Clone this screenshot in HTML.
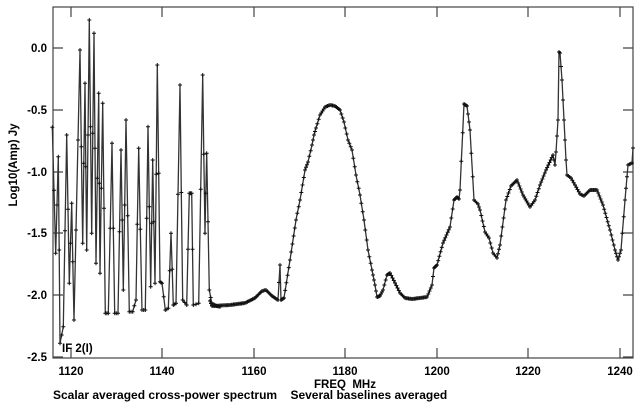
<!DOCTYPE html><html><head><style>body{margin:0;background:#fff}svg{display:block;font-family:"Liberation Sans",sans-serif;font-weight:bold;font-size:11.5px}</style></head><body>
<svg id="s" width="639" height="405" xmlns="http://www.w3.org/2000/svg">
<rect x="53" y="7" width="580" height="351" fill="none" stroke="#444" stroke-width="1.2"/>
<g id="ticks" stroke="#444" stroke-width="1.2"></g>
<g text-anchor="end">
<text x="47" y="52">0.0</text><text x="47" y="114">-0.5</text><text x="47" y="176">-1.0</text><text x="47" y="237">-1.5</text><text x="47" y="299">-2.0</text><text x="47" y="361">-2.5</text></g>
<g text-anchor="middle">
<text x="71" y="375">1120</text><text x="162" y="375">1140</text><text x="254" y="375">1160</text><text x="345" y="375">1180</text><text x="437" y="375">1200</text><text x="528" y="375">1220</text><text x="620" y="375">1240</text>
<text x="345" y="388">FREQ&#160;&#160;MHz</text>
<text transform="translate(17,165) rotate(-90)">Log10(Amp) Jy</text></g>
<text x="62" y="352">IF 2(I)</text>
<text x="53" y="399" font-size="12">Scalar averaged cross-power spectrum&#160;&#160;&#160;&#160;Several baselines averaged</text>
<path id="p" fill="none" stroke="#333" stroke-width="1.3"/>
<path id="m" fill="none" stroke="#111" stroke-width="1"/>
</svg>
<script>
var L=[157,382,167,760,175,470,180,1030,190,980,200,405,208,850,215,610,222,960,240,150,248,730,255,250,260,750,268,60,275,700,282,100,288,790,296,280,300,820,308,310,316,940,325,940,336,430,344,940,354,940,363,450,370,870,378,360,388,935,398,935,408,900,416,445,426,930,436,930,444,380,452,860,458,480,465,850,472,195,480,845,486,850,496,930,505,925,513,700,520,915,528,910,540,255,548,900,560,915,568,580,575,580,580,915,596,910,608,225,615,700,620,460,628,870,636,915,660,920];
var P=[];for(var i=0;i<L.length;i+=2)P.push([L[i]/3,L[i+1]/3]);
var R=[210,301,212,306,230,305,245,303,255,298,262,291,266,290,272,296,278,300,280,265,281,300,284,298,290,260,296,220,300,200,305,170,308,162,312,145,314,135,316,128,320,115,325,107,330,105,335,106,340,110,344,122,348,140,352,150,356,175,360,195,364,220,368,250,372,270,375,285,377,297,380,296,383,290,387,275,390,273,395,283,400,293,405,298,412,299,420,298,427,297,432,285,434,268,437,265,443,243,450,227,454,200,457,197,459,199,460,190,464,104,467,106,470,130,474,200,478,204,480,210,485,232,489,238,493,253,497,258,500,245,506,200,511,186,517,180,523,195,530,207,535,200,540,185,546,170,553,155,555,165,556,152,558,120,559,52,560,53,562,80,564,120,566,160,567,175,571,178,575,185,580,194,584,196,590,190,597,190,603,205,610,230,615,250,618,260,621,250,625,200,628,165,632,163,633,148];
for(i=0;i<R.length;i+=2)P.push([R[i],R[i+1]]);
var pts=[];
for(i=0;i<P.length-1;i++){var a=P[i],b=P[i+1];var n=Math.max(1,Math.round((b[0]-a[0])/(a[0]<210?2.2:1.2)));
 if(a[0]<210)n=Math.max(2,n);
 for(var k=0;k<n;k++){var t=k/n;pts.push([a[0]+(b[0]-a[0])*t,a[1]+(b[1]-a[1])*t]);}}
pts.push(P[P.length-1]);
var d="",m="";pts.forEach(function(p,j){d+=(j?"L":"M")+p[0].toFixed(1)+" "+p[1].toFixed(1);m+="M"+(p[0]-2).toFixed(1)+" "+p[1].toFixed(1)+"h4M"+p[0].toFixed(1)+" "+(p[1]-2).toFixed(1)+"v4";});
document.getElementById("p").setAttribute("d",d);document.getElementById("m").setAttribute("d",m);
var t="";[71,162,254,345,437,528,620].forEach(function(x){t+="M"+x+" 358v-10M"+x+" 7v10";});
[48,110,172,233,295,357].forEach(function(y){t+="M53 "+y+"h10M633 "+y+"h-10";});
var g=document.createElementNS("http://www.w3.org/2000/svg","path");g.setAttribute("d",t);document.getElementById("ticks").appendChild(g);
</script></body></html>
